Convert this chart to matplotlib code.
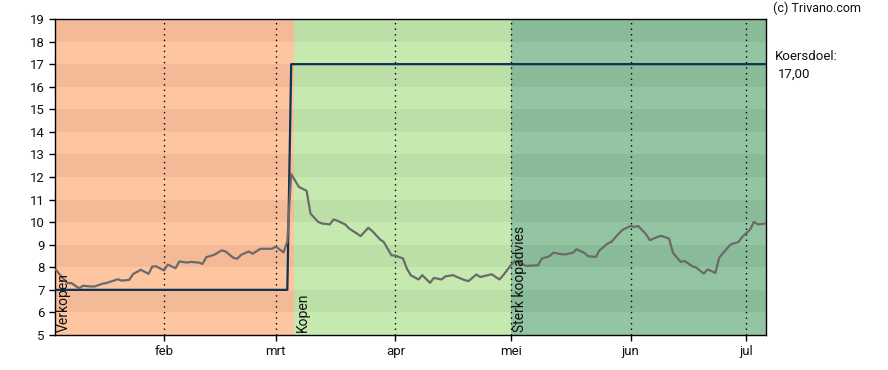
import pandas as pd
import matplotlib
matplotlib.use('Agg')
import matplotlib.pyplot as plt

plt.rcParams['font.family'] = ['Roboto', 'DejaVu Sans']

# koers
dates = ['2024-01-04', '2024-01-05', '2024-01-07', '2024-01-08', '2024-01-10', '2024-01-11',
         '2024-01-13', '2024-01-14', '2024-01-16', '2024-01-17', '2024-01-19', '2024-01-20',
         '2024-01-21', '2024-01-23', '2024-01-24', '2024-01-26', '2024-01-28', '2024-01-29',
         '2024-01-30', '2024-02-01', '2024-02-02', '2024-02-04', '2024-02-05', '2024-02-07',
         '2024-02-08', '2024-02-10', '2024-02-11', '2024-02-12', '2024-02-14', '2024-02-16',
         '2024-02-17', '2024-02-19', '2024-02-20', '2024-02-21', '2024-02-23', '2024-02-24',
         '2024-02-26', '2024-02-27', '2024-02-29', '2024-03-01', '2024-03-03', '2024-03-04',
         '2024-03-05', '2024-03-07', '2024-03-09', '2024-03-10', '2024-03-12', '2024-03-13',
         '2024-03-15', '2024-03-16', '2024-03-17', '2024-03-19', '2024-03-20', '2024-03-22',
         '2024-03-23', '2024-03-25', '2024-03-26', '2024-03-28', '2024-03-29', '2024-03-31',
         '2024-04-01', '2024-04-03', '2024-04-04', '2024-04-05', '2024-04-07', '2024-04-08',
         '2024-04-10', '2024-04-11', '2024-04-13', '2024-04-14', '2024-04-16', '2024-04-17',
         '2024-04-19', '2024-04-20', '2024-04-22', '2024-04-23', '2024-04-25', '2024-04-26',
         '2024-04-28', '2024-04-29', '2024-05-01', '2024-05-02', '2024-05-05', '2024-05-08',
         '2024-05-09', '2024-05-11', '2024-05-12', '2024-05-14', '2024-05-15', '2024-05-17',
         '2024-05-18', '2024-05-20', '2024-05-21', '2024-05-23', '2024-05-24', '2024-05-26',
         '2024-05-27', '2024-05-29', '2024-05-30', '2024-06-01', '2024-06-02', '2024-06-03',
         '2024-06-05', '2024-06-06', '2024-06-08', '2024-06-09', '2024-06-11', '2024-06-12',
         '2024-06-14', '2024-06-15', '2024-06-17', '2024-06-18', '2024-06-20', '2024-06-21',
         '2024-06-23', '2024-06-24', '2024-06-25', '2024-06-27', '2024-06-29', '2024-06-30',
         '2024-07-02', '2024-07-03', '2024-07-04', '2024-07-06']
koers = [7.89, 7.67, 7.30, 7.30, 7.07, 7.18,
         7.15, 7.15, 7.27, 7.30, 7.41, 7.47,
         7.41, 7.44, 7.70, 7.89, 7.71, 8.04,
         8.04, 7.86, 8.12, 7.96, 8.26, 8.21,
         8.24, 8.21, 8.15, 8.45, 8.55, 8.75,
         8.70, 8.42, 8.38, 8.55, 8.70, 8.60,
         8.82, 8.82, 8.82, 8.92, 8.66, 9.14,
         12.13, 11.56, 11.39, 10.38, 10.01, 9.94,
         9.90, 10.12, 10.06, 9.90, 9.72, 9.50,
         9.38, 9.75, 9.61, 9.24, 9.12, 8.53,
         8.52, 8.39, 7.94, 7.65, 7.46, 7.65,
         7.31, 7.53, 7.46, 7.60, 7.65, 7.57,
         7.43, 7.39, 7.68, 7.57, 7.65, 7.69,
         7.46, 7.65, 8.10, 8.27, 8.06, 8.09,
         8.39, 8.49, 8.65, 8.58, 8.57, 8.64,
         8.80, 8.64, 8.49, 8.46, 8.76, 9.05,
         9.12, 9.50, 9.67, 9.83, 9.79, 9.83,
         9.47, 9.20, 9.35, 9.39, 9.27, 8.64,
         8.24, 8.28, 8.05, 7.99, 7.72, 7.91,
         7.75, 8.42, 8.64, 9.02, 9.12, 9.35,
         9.67, 10.01, 9.90, 9.94]

# koersdoel
doel_dates = ['2024-01-01', '2024-03-04', '2024-03-05', '2024-07-10']
doel = [7, 7, 17, 17]

# advies periodes
advies = ['Verkopen', 'Kopen', 'Sterk koopadvies']
advies_start = ['2024-01-01', '2024-03-05 18:00', '2024-05-01']
advies_end = ['2024-03-05 18:00', '2024-05-01', '2024-07-10']
licht = ['#fdc5a0', '#c6e9b0', '#93c5a2']
donker = ['#f4ba98', '#bcdfa7', '#89bb98']

maanden = ['2024-02-01', '2024-03-01', '2024-04-01', '2024-05-01', '2024-06-01', '2024-07-01']
maand_labels = ['feb', 'mrt', 'apr', 'mei', 'jun', 'jul']

x = pd.to_datetime(dates)
x_doel = pd.to_datetime(doel_dates)
x_maand = pd.to_datetime(maanden)
x_min = pd.Timestamp('2024-01-03 17:45')
x_max = pd.Timestamp('2024-07-06 03:00')

fig = plt.figure(figsize=(8.88, 3.70), dpi=100)
ax = fig.add_axes([0.0619, 0.0946, 0.8007, 0.854])

for i in range(len(advies)):
    s = pd.Timestamp(advies_start[i])
    e = pd.Timestamp(advies_end[i])
    ax.axvspan(s, e, color=licht[i], lw=0, zorder=0)
    for k in range(6, 19, 2):
        ax.fill_between([s, e], k, k + 1, color=donker[i], lw=0, zorder=0)
    s_txt = max(s, x_min)
    ax.text(s_txt + pd.Timedelta(hours=10), 5.12, advies[i], rotation=90, ha='left', va='bottom',
            fontsize=10, color='#111111', zorder=5)

for m in x_maand:
    ax.axvline(m, color='black', lw=1, ls=(0, (1, 3)), zorder=1)

ax.plot(x_doel, doel, color='#0b3352', lw=1.6, zorder=3)
ax.plot(x, koers, color='#6a6a6a', lw=1.6, zorder=4)

ax.set_xlim(x_min, x_max)
ax.set_ylim(5, 19)
ax.set_yticks(range(5, 20))
ax.set_xticks(x_maand)
ax.set_xticklabels(maand_labels)
ax.tick_params(axis='both', labelsize=9.5, length=4, width=1, colors='black', labelcolor='#111111')
for sp in ax.spines.values():
    sp.set_linewidth(1)
    sp.set_color('black')

fig.text(773 / 888, 1 - 8 / 370, '(c) Trivano.com', fontsize=9, ha='left', va='center', color='#111111')
fig.text(775 / 888, 1 - 57 / 370, 'Koersdoel:', fontsize=9.5, ha='left', va='center', color='#111111')
fig.text(778 / 888, 1 - 74 / 370, '17,00', fontsize=9.5, ha='left', va='center', color='#111111')

fig.savefig('out.png', dpi=100)
